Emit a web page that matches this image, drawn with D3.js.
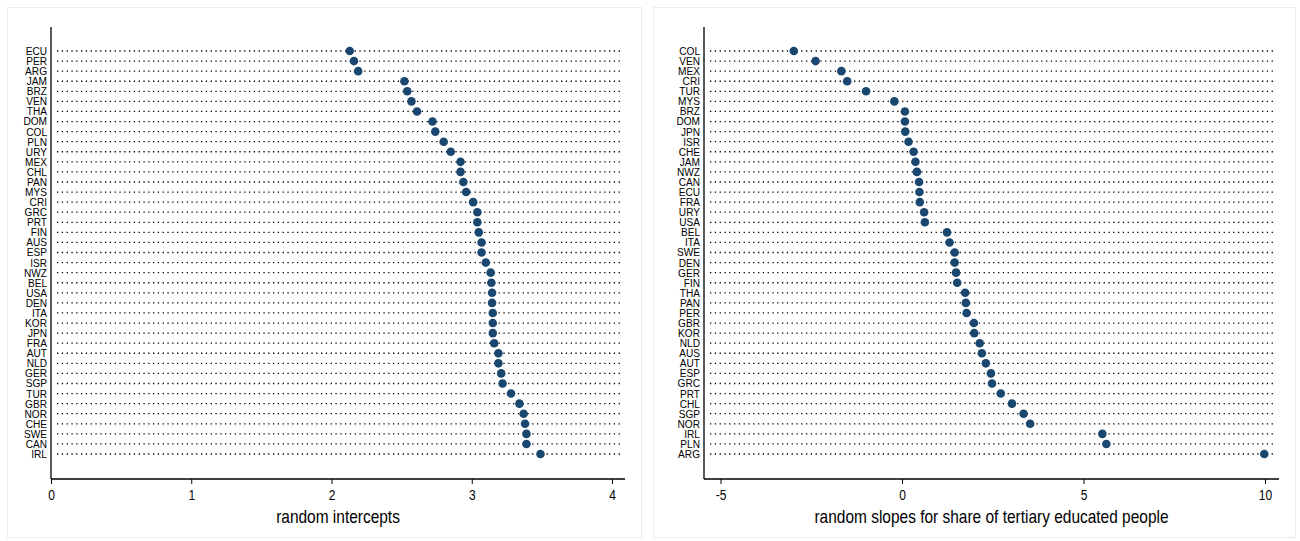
<!DOCTYPE html>
<html lang="en">
<head>
<meta charset="UTF-8">
<title>Random intercepts and slopes</title>
<script src="https://d3js.org/d3.v7.min.js"></script>
<style>
  body, html { margin: 0; padding: 0; background: #fff; overflow: hidden; }
  svg { display: block; }
  .lbl { font-family: "Liberation Sans", Arial, sans-serif; fill: #000; }
</style>
</head>
<body>
<svg width="1300" height="541"></svg>
<script>
// left panel: random intercepts, sorted
const interceptCountries = ["ECU","PER","ARG","JAM","BRZ","VEN","THA","DOM","COL","PLN","URY","MEX","CHL","PAN","MYS","CRI","GRC","PRT","FIN","AUS","ESP","ISR","NWZ","BEL","USA","DEN","ITA","KOR","JPN","FRA","AUT","NLD","GER","SGP","TUR","GBR","NOR","CHE","SWE","CAN","IRL"];
const interceptValues = [2.13,2.16,2.19,2.52,2.54,2.57,2.61,2.72,2.74,2.80,2.85,2.92,2.92,2.94,2.96,3.01,3.04,3.04,3.05,3.07,3.07,3.10,3.135,3.14,3.145,3.145,3.15,3.15,3.15,3.16,3.19,3.19,3.21,3.22,3.28,3.34,3.37,3.38,3.39,3.39,3.49];
const interceptTicks = [0, 1, 2, 3, 4];

// right panel: random slopes, sorted
const slopeCountries = ["COL","VEN","MEX","CRI","TUR","MYS","BRZ","DOM","JPN","ISR","CHE","JAM","NWZ","CAN","ECU","FRA","URY","USA","BEL","ITA","SWE","DEN","GER","FIN","THA","PAN","PER","GBR","KOR","NLD","AUS","AUT","ESP","GRC","PRT","CHL","SGP","NOR","IRL","PLN","ARG"];
const slopeValues = [-2.98,-2.38,-1.67,-1.51,-0.99,-0.21,0.08,0.08,0.09,0.18,0.32,0.37,0.41,0.47,0.48,0.49,0.61,0.63,1.24,1.31,1.45,1.45,1.49,1.52,1.74,1.76,1.78,1.98,1.99,2.14,2.20,2.31,2.45,2.48,2.72,3.03,3.35,3.53,5.52,5.63,9.98];
const slopeTicks = [-5, 0, 5, 10];

const svg = d3.select("svg");
const markColor = "#1a476f";
const narrow = 0.86; // squeeze text horizontally, like the narrow font in the original

function panel(opt) {
  const g = svg.append("g");

  // outer graph region frame
  g.append("rect")
    .attr("x", opt.frame[0] + 0.5).attr("y", 7.5)
    .attr("width", opt.frame[1] - opt.frame[0]).attr("height", 530)
    .attr("fill", "#fff").attr("stroke", "#e6eef1").attr("stroke-width", 1);

  const x = d3.scaleLinear().domain(opt.domain).range([opt.left, opt.right]);
  const y = d3.scalePoint().domain(opt.cats).range([51, 454]);

  // dotted guide lines
  g.selectAll("line.guide").data(opt.cats).enter().append("line")
    .attr("class", "guide")
    .attr("x1", opt.left + 6).attr("x2", opt.right - 3)
    .attr("y1", d => y(d)).attr("y2", d => y(d))
    .attr("stroke", "#000").attr("stroke-width", 1.3)
    .attr("stroke-dasharray", "1.3,3.5");

  // y axis line
  g.append("line")
    .attr("x1", opt.left).attr("x2", opt.left)
    .attr("y1", 27).attr("y2", 479)
    .attr("stroke", "#000").attr("stroke-width", 1.3);

  // category labels
  g.selectAll("text.cat").data(opt.cats).enter().append("text")
    .attr("class", "lbl cat")
    .attr("transform", d => `translate(${opt.left - 4},${y(d)}) scale(0.92,1)`)
    .attr("dy", "0.36em")
    .attr("text-anchor", "end")
    .attr("font-size", 11)
    .text(d => d);

  // x axis
  const ax = g.append("g")
    .attr("transform", "translate(0,479)")
    .call(d3.axisBottom(x).tickValues(opt.ticks).tickSize(5).tickPadding(6).tickFormat(d => String(d)));
  ax.select(".domain").attr("stroke", "#000").attr("stroke-width", 1.3)
    .attr("d", `M${opt.left},0H${opt.right}`);
  ax.selectAll(".tick line").attr("stroke", "#000").attr("stroke-width", 1);
  ax.selectAll(".tick text")
    .attr("class", "lbl")
    .attr("font-size", 14)
    .attr("font-family", null)
    .attr("transform", `scale(${narrow},1)`);

  // axis title
  g.append("text")
    .attr("class", "lbl")
    .attr("transform", `translate(${(opt.left + opt.right) / 2},523) scale(${narrow},1)`)
    .attr("text-anchor", "middle")
    .attr("font-size", 18)
    .text(opt.title);

  // markers
  g.selectAll("circle").data(opt.cats).enter().append("circle")
    .attr("cx", (d, i) => x(opt.values[i]))
    .attr("cy", d => y(d))
    .attr("r", 4.3)
    .attr("fill", markColor);
}

panel({
  frame: [7, 641],
  left: 51, right: 625,
  domain: [0, (625 - 51) / 140.25],
  cats: interceptCountries,
  values: interceptValues,
  ticks: interceptTicks,
  title: "random intercepts"
});

panel({
  frame: [653, 1295],
  left: 704, right: 1279,
  domain: [(704 - 902) / 36.3, (1279 - 902) / 36.3],
  cats: slopeCountries,
  values: slopeValues,
  ticks: slopeTicks,
  title: "random slopes for share of tertiary educated people"
});
</script>
</body>
</html>
